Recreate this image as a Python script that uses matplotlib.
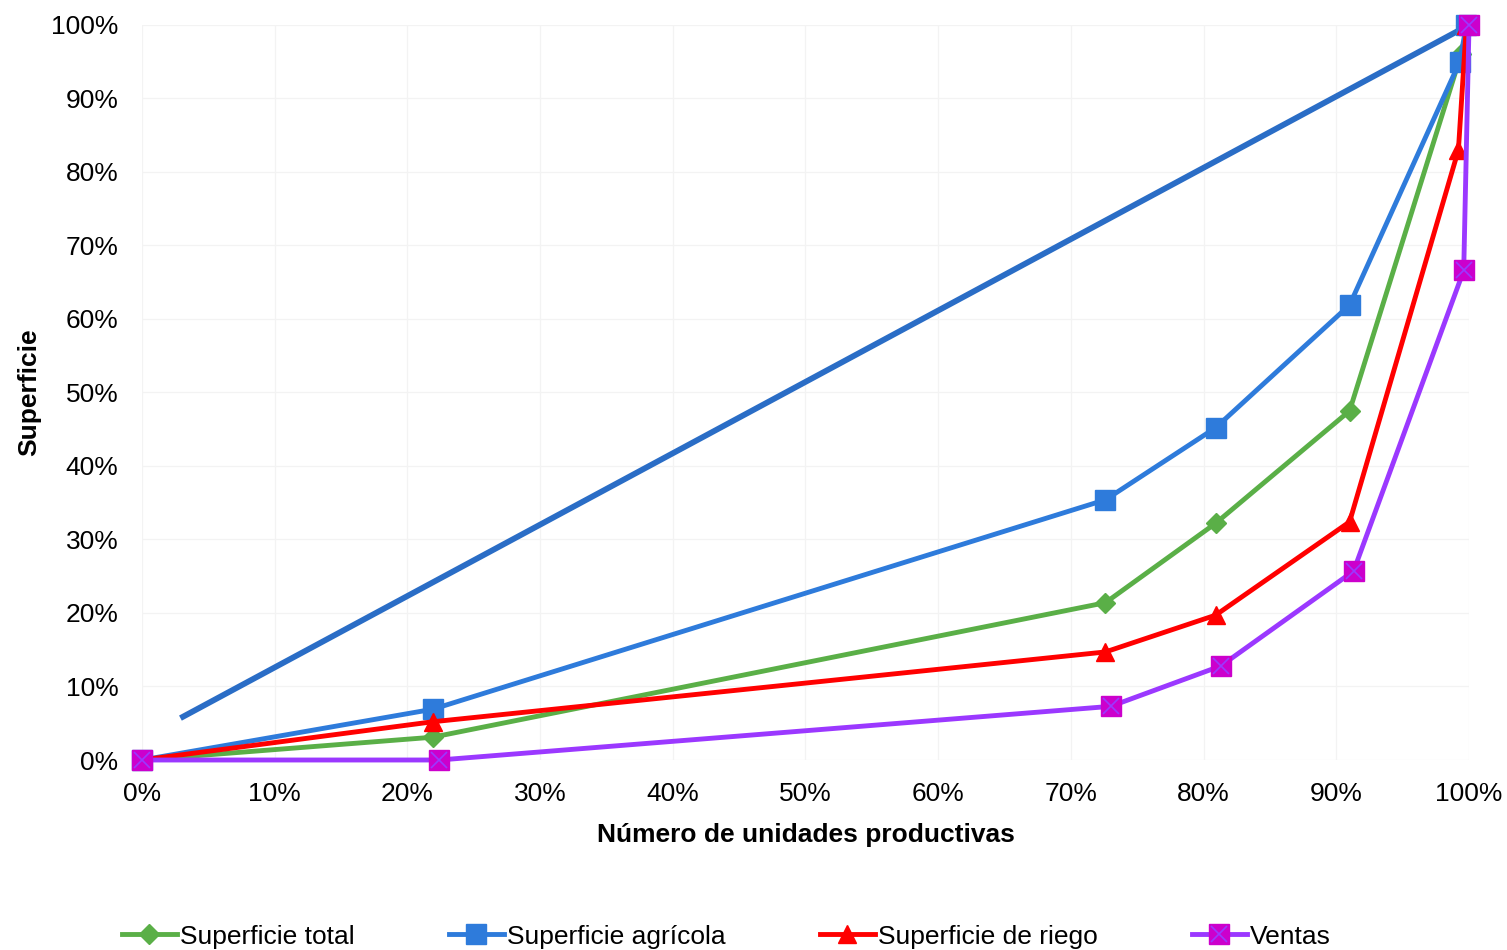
import matplotlib
matplotlib.use("Agg")
import matplotlib.pyplot as plt
from matplotlib.ticker import MultipleLocator, PercentFormatter
from matplotlib.legend_handler import HandlerTuple

plt.rcParams["font.family"] = ["Liberation Sans", "DejaVu Sans"]

# shares in percent
x_common = [0, 21.9, 72.6, 80.9, 91.0, 99.4, 100]
total = [0, 3.1, 21.4, 32.2, 47.5, 96.0, 100]
x_agricola = [0, 21.9, 72.6, 80.9, 91.0, 99.3, 99.8]
agricola = [0, 6.9, 35.4, 45.2, 61.9, 95.0, 100]
x_riego = [0, 21.9, 72.6, 80.9, 91.0, 99.2, 99.8]
riego = [0, 5.2, 14.7, 19.7, 32.4, 83.0, 100]
x_ventas = [0, 22.4, 73.0, 81.3, 91.3, 99.6, 100]
ventas = [0, 0, 7.3, 12.8, 25.7, 66.6, 100]
x_diag = [2.9, 100]
y_diag = [5.7, 100]

GREEN = "#5AAF47"
BLUE = "#2E7BDB"
DARKBLUE = "#2A6DC6"
RED = "#FF0000"
PURPLE = "#9B38FF"
MAGENTA = "#CC00CC"
FS = 19

fig = plt.figure(figsize=(15.07, 9.5), dpi=100)
ax = fig.add_axes([0.0942, 0.2, 0.9748 - 0.0942, 0.7737])

ax.plot(x_diag, y_diag, color=DARKBLUE, lw=4.2, solid_capstyle="butt", zorder=2)

h_total, = ax.plot(x_common, total, color=GREEN, lw=3.5, marker="D", ms=10,
                   mfc=GREEN, mec=GREEN, clip_on=False, zorder=3)
h_agr, = ax.plot(x_agricola, agricola, color=BLUE, lw=3.5, marker="s", ms=14,
                 mfc=BLUE, mec=BLUE, clip_on=False, zorder=3)
h_riego, = ax.plot(x_riego, riego, color=RED, lw=3.5, marker="^", ms=13,
                   mfc=RED, mec=RED, clip_on=False, zorder=4)
h_ventas, = ax.plot(x_ventas, ventas, color=PURPLE, lw=3.5, marker="s", ms=14,
                    mfc=MAGENTA, mec=MAGENTA, clip_on=False, zorder=5)
h_vx, = ax.plot(x_ventas, ventas, ls="none", marker="x", ms=12, mew=1.2,
                color=PURPLE, clip_on=False, zorder=6)

ax.set_xlim(0, 100)
ax.set_ylim(0, 100)
ax.xaxis.set_major_locator(MultipleLocator(10))
ax.yaxis.set_major_locator(MultipleLocator(10))
ax.xaxis.set_major_formatter(PercentFormatter(decimals=0))
ax.yaxis.set_major_formatter(PercentFormatter(decimals=0))
ax.tick_params(length=0, labelsize=FS, colors="#000000")
ax.tick_params(axis="x", pad=16)
ax.tick_params(axis="y", pad=17)
ax.grid(True, color="#F3F3F3", lw=0.9)
ax.set_axisbelow(True)
for s in ax.spines.values():
    s.set_visible(False)

ax.set_xlabel("Número de unidades productivas", fontsize=FS, fontweight="bold", labelpad=12)
ax.set_ylabel("Superficie", fontsize=FS, fontweight="bold", labelpad=7)

fig.legend([h_total, h_agr, h_riego, (h_ventas, h_vx)],
           ["Superficie total", "Superficie agrícola", "Superficie de riego", "Ventas"],
           handler_map={tuple: HandlerTuple(ndivide=1, pad=0)},
           loc="center", bbox_to_anchor=(0.482, 0.014), ncol=4, frameon=False,
           fontsize=FS, handlelength=2.1, handletextpad=0.12, columnspacing=3.55,
           borderaxespad=0, borderpad=0)

fig.savefig("out.png", dpi=100)
